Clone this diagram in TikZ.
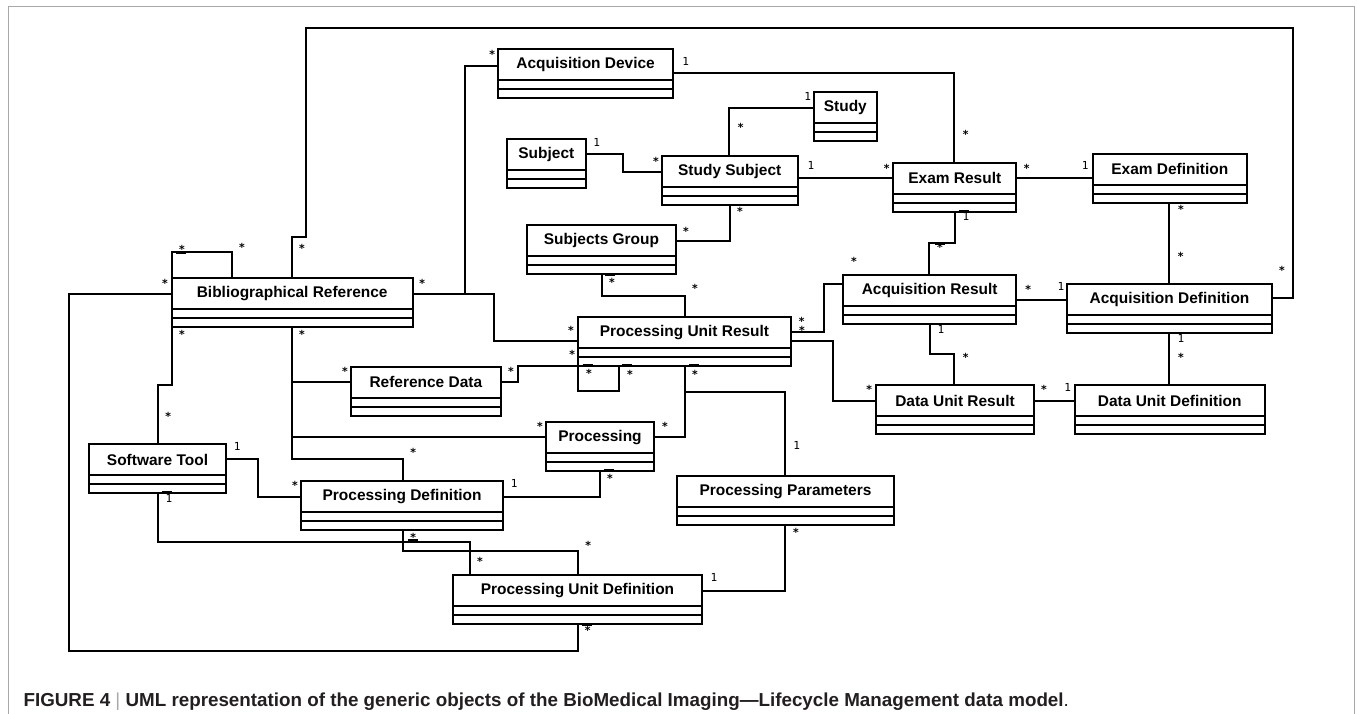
\documentclass[tikz,border=0pt]{standalone}
\usepackage{fontspec}
\setmainfont{Liberation Sans}
\newfontfamily\multfont{DejaVu Sans Mono}
\usetikzlibrary{calc}
\definecolor{ink}{HTML}{231F20}
\definecolor{framegray}{HTML}{A8A8A8}

\tikzset{
  classbox/.style={draw, line width=1.5pt, inner sep=0pt, outer sep=0pt, anchor=north west},
  classtitle/.style={font=\fontsize{11.6}{13}\selectfont\bfseries, inner sep=0pt},
  compline/.style={line width=1.5pt},
  assoc/.style={line width=1.5pt, line join=miter},
  endmark/.style={line width=2.1pt},
  mult/.style={font=\multfont\fontsize{8.3}{9}\selectfont, inner sep=0pt, anchor=base},
}

% class box: name, left, top, right, title (fixed 31/9/9 compartments)
\newcommand\umlclass[5]{%
  \pgfmathsetmacro\boxw{(#4-#2)*0.75}%
  \node[classbox, minimum width=\boxw pt, minimum height=36.75pt] (#1) at (#2,#3) {};
  \node[classtitle] (#1-title) at ($(#1.north)+(0,15.5)$) {#5};
  \draw[compline] ($(#1.north west)+(0,31)$) -- ($(#1.north east)+(0,31)$);
  \draw[compline] ($(#1.north west)+(0,40)$) -- ($(#1.north east)+(0,40)$);
}

% multiplicity labels
\newcount\multno
\newcommand\many[2]{\global\advance\multno by 1
  \node[mult] (mult-\the\multno) at (#1,#2+6.4) {\bfseries *};}
\newcommand\one[2]{\global\advance\multno by 1
  \node[mult] (mult-\the\multno) at (#1,#2+4) {1};}
% short heavy tick at an association end
\newcommand\tick[2]{\draw[endmark] (#1-5,#2) -- (#1+5,#2);}

\begin{document}
\begin{tikzpicture}[x=0.75pt, y=-0.75pt]
\useasboundingbox (0,0) rectangle (1357,714);

% page frame
\draw[framegray, line width=0.8pt] (8.3,714) -- (8.3,6.7) -- (1354.3,6.7) -- (1354.3,714);

% classes
\umlclass{AD}{498}{49.3}{673.3}{Acquisition Device}
\umlclass{Study}{814}{92.3}{876.7}{Study}
\umlclass{Subj}{506.7}{139.3}{586}{Subject}
\umlclass{SS}{661.7}{155.7}{797.7}{Study Subject}
\umlclass{ER}{893.3}{162.7}{1016.3}{Exam Result}
\umlclass{ED}{1092.7}{153.7}{1247}{Exam Definition}
\umlclass{SG}{527.3}{225}{675.7}{Subjects Group}
\umlclass{BR}{171.7}{277.7}{412.7}{Bibliographical Reference}
\umlclass{AR}{843.3}{275.3}{1016}{Acquisition Result}
\umlclass{AqD}{1067.3}{284}{1271.7}{Acquisition Definition}
\umlclass{PUR}{578.3}{316.7}{790.7}{Processing Unit Result}
\umlclass{RD}{351}{366.7}{500.7}{Reference Data}
\umlclass{DUR}{876}{385}{1034}{Data Unit Result}
\umlclass{DUD}{1074.7}{385}{1264.7}{Data Unit Definition}
\umlclass{P}{545.7}{421.7}{654.3}{Processing}
\umlclass{ST}{89}{444}{226}{Software Tool}
\umlclass{PP}{677}{476}{894}{Processing Parameters}
\umlclass{PD}{301}{480.7}{503.3}{Processing Definition}
\umlclass{PUD}{452.7}{575}{702.3}{Processing Unit Definition}

% associations
\draw[assoc] (291.7,0 |- BR.north) -- (291.7,236.7) -- (306,236.7) -- (306,28)
  -- (1293.3,28) -- (1293.3,298.3) -- (AqD.east |- 0,298.3);
\draw[assoc] (171.7,0 |- BR.north) -- (171.7,252.3) -- (232,252.3) -- (232,0 |- BR.north);
\draw[assoc] (BR.west |- 0,294) -- (69.3,294) -- (69.3,650.7) -- (577.7,650.7) -- (577.7,0 |- PUD.south);
\draw[assoc] (BR.east |- 0,294) -- (465,294) -- (465,65.7) -- (AD.west |- 0,65.7);
\draw[assoc] (465,294) -- (494.3,294) -- (494.3,340.7) -- (PUR.west |- 0,340.7);
\draw[assoc] (171.7,0 |- BR.south) -- (171.7,385.3) -- (157.7,385.3) -- (157.7,0 |- ST.north);
\draw[assoc] (291.7,0 |- BR.south) -- (291.7,382.3) -- (RD.west |- 0,382.3);
\draw[assoc] (291.7,382.3) -- (291.7,436.7) -- (P.west |- 0,436.7);
\draw[assoc] (291.7,436.7) -- (291.7,458.7) -- (402.5,458.7) -- (402.5,0 |- PD.north);
\draw[assoc] (Subj.east |- 0,154.3) -- (623.3,154.3) -- (623.3,171.7) -- (SS.west |- 0,171.7);
\draw[assoc] (729.3,0 |- SS.north) -- (729.3,107.7) -- (Study.west |- 0,107.7);
\draw[assoc] (SS.east |- 0,178.3) -- (ER.west |- 0,178.3);
\draw[assoc] (SG.east |- 0,241) -- (730,241) -- (730,0 |- SS.south);
\draw[assoc] (AD.east |- 0,73.3) -- (954.3,73.3) -- (954.3,0 |- ER.north);
\draw[assoc] (ER.east |- 0,178.3) -- (ED.west |- 0,178.3);
\draw[assoc] (1169.3,0 |- ED.south) -- (1169.3,0 |- AqD.north);
\draw[assoc] (955,0 |- ER.south) -- (955,243.3) -- (929.3,243.3) -- (929.3,0 |- AR.north);
\draw[assoc] (AR.east |- 0,299.7) -- (AqD.west |- 0,299.7);
\draw[assoc] (PUR.east |- 0,331.7) -- (824.3,331.7) -- (824.3,284) -- (AR.west |- 0,284);
\draw[assoc] (PUR.east |- 0,340.7) -- (833.3,340.7) -- (833.3,401) -- (DUR.west |- 0,401);
\draw[assoc] (DUR.east |- 0,400.7) -- (DUD.west |- 0,400.7);
\draw[assoc] (1169.3,0 |- AqD.south) -- (1169.3,0 |- DUD.north);
\draw[assoc] (930,0 |- AR.south) -- (930,354.3) -- (954.3,354.3) -- (954.3,0 |- DUR.north);
\draw[assoc] (601.7,0 |- SG.south) -- (601.7,295.7) -- (685,295.7) -- (685,0 |- PUR.north);
\draw[assoc] (PUR.south west) -- (578.3,390.7) -- (619.3,390.7) -- (619.3,0 |- PUR.south);
\draw[assoc] (PUR.south west) -- (518.3,0 |- PUR.south) -- (518.3,381.7) -- (RD.east |- 0,381.7);
\draw[assoc] (685,0 |- PUR.south) -- (685,436.7) -- (P.east |- 0,436.7);
\draw[assoc] (685,391.7) -- (785,391.7) -- (785,0 |- PP.north);
\draw[assoc] (785,0 |- PP.south) -- (785,590.7) -- (PUD.east |- 0,590.7);
\draw[assoc] (ST.east |- 0,459.3) -- (257.7,459.3) -- (257.7,496.7) -- (PD.west |- 0,496.7);
\draw[assoc] (157.7,0 |- ST.south) -- (157.7,541.7) -- (470,541.7) -- (470,0 |- PUD.north);
\draw[assoc] (402.5,0 |- PD.south) -- (402.5,551) -- (577.7,551) -- (577.7,0 |- PUD.north);
\draw[assoc] (600,0 |- P.south) -- (600,496.7) -- (PD.east |- 0,496.7);

% heavy ticks at some ends
\tick{181}{252.3} \tick{181}{327} \tick{301.5}{327} \tick{739}{205}
\tick{610}{274.3} \tick{963.5}{211.5} \tick{940}{243.3} \tick{939}{324}
\tick{1179}{203} \tick{1179}{333} \tick{587.7}{365} \tick{627.2}{365}
\tick{694}{365} \tick{609}{470.7} \tick{167}{492.7} \tick{413}{540}
\tick{587}{624.3}

% multiplicities
\many{302}{246} \many{1282}{268} \many{182}{247} \many{242}{245}
\many{165}{281} \many{587.7}{628.3} \many{422.3}{281} \many{492.3}{51.7}
\many{571}{328.3} \many{182}{331.7} \many{168.3}{413.7} \many{302}{331.7}
\many{345}{368.7} \many{540}{424} \many{413.3}{450} \many{656}{159}
\many{740.7}{125} \many{886.7}{165.7} \many{686}{229} \many{740}{209}
\many{965.7}{131.7} \many{1026.7}{165.7} \many{1181}{207.3} \many{1180.7}{254}
\many{940}{245} \many{1028.3}{286.7} \many{854}{259.3} \many{801.7}{319}
\many{802}{328.3} \many{869.3}{387.3} \many{1044}{387.3} \many{1181}{355}
\many{965.7}{355} \many{612}{280} \many{695}{285.7} \many{589}{371}
\many{630}{372.3} \many{572.3}{352.3} \many{511}{368.7} \many{695}{371.7}
\many{665}{424} \many{796}{530} \many{295}{483.3} \many{480}{559}
\many{413.3}{535} \many{588.3}{543.3} \many{610}{476}

\one{596.7}{142.3} \one{807.7}{96} \one{811}{165.7} \one{685.7}{61.3}
\one{1085.3}{165.7} \one{966}{216.7} \one{1061}{286.7} \one{1067.7}{387.3}
\one{1181}{338.3} \one{941}{329} \one{796.7}{445} \one{714}{577.3}
\one{237.3}{446.7} \one{169}{498.3} \one{514.3}{483.3}

% caption
\node[anchor=base west, inner sep=0pt, text=ink, font=\fontsize{14.1}{16}\selectfont] (caption) at (23.3,706.7)
  {\bfseries FIGURE 4 {\mdseries\color{framegray}|} UML representation of the generic objects of the BioMedical Imaging—Lifecycle Management data model{\mdseries .}};
\end{tikzpicture}
\end{document}
